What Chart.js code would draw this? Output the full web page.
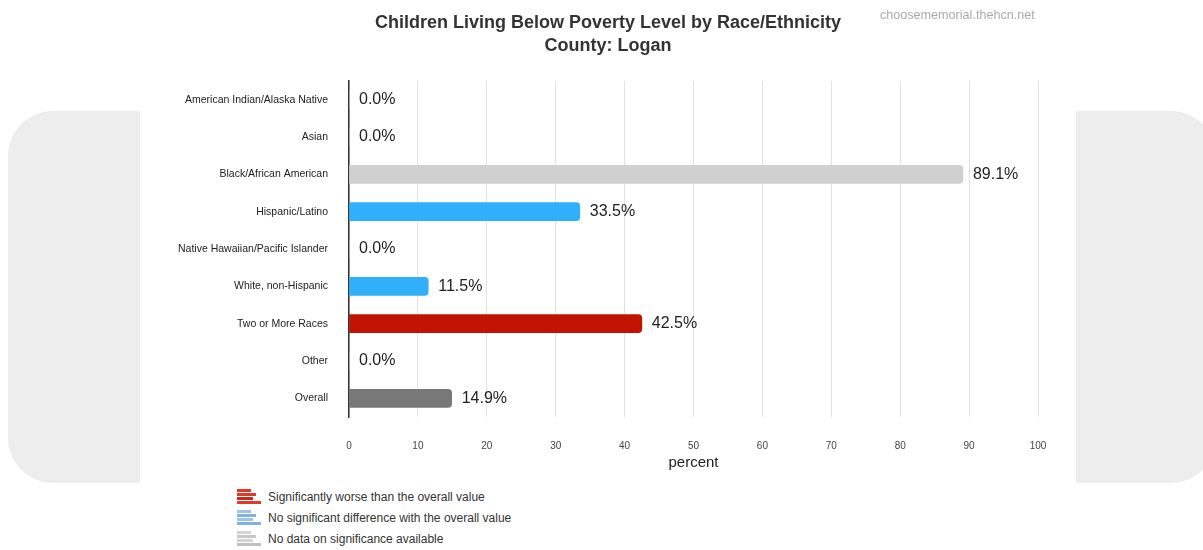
<!DOCTYPE html>
<html>
<head>
<meta charset="utf-8">
<script src="https://cdn.jsdelivr.net/npm/chart.js@4.4.0/dist/chart.umd.min.js"></script>
<style>
  body { margin: 0; background: #fff; font-family: "Liberation Sans", Arial, sans-serif; }
  #wrap { position: relative; width: 1203px; height: 550px; overflow: hidden; }
  .panel { position: absolute; top: 111px; height: 372px; background: #ededed; }
  #panelL { left: 8px; width: 132px; border-radius: 45px 0 0 45px; }
  #panelR { left: 1076px; width: 140px; border-radius: 0 45px 45px 0; }
  #chartBox { position: absolute; left: 0; top: 0; width: 1203px; height: 472px; }
  #title { position: absolute; left: 0; top: 11px; width: 1216px; text-align: center;
           font-size: 18px; font-weight: bold; line-height: 23px; color: #333; }
  #mark { position: absolute; left: 880px; top: 8px; font-size: 12.6px; color: #aaa; }
  #legend { position: absolute; left: 237px; top: 486px; font-size: 12px; color: #333; }
  .row { height: 21px; display: flex; align-items: center; }
  .icon { width: 24px; height: 16px; margin-right: 7px; position: relative; }
  .icon span { position: absolute; left: 0; height: 3px; }
</style>
</head>
<body>
<div id="wrap">
  <div class="panel" id="panelL"></div>
  <div class="panel" id="panelR"></div>
  <div id="chartBox"><canvas id="chart"></canvas></div>
  <div id="title">Children Living Below Poverty Level by Race/Ethnicity<br>County: Logan</div>
  <div id="mark">choosememorial.thehcn.net</div>
  <div id="legend"></div>
</div>
<script>
const categories = [
    'American Indian/Alaska Native',
    'Asian',
    'Black/African American',
    'Hispanic/Latino',
    'Native Hawaiian/Pacific Islander',
    'White, non-Hispanic',
    'Two or More Races',
    'Other',
    'Overall'
];
const values = [0.0, 0.0, 89.1, 33.5, 0.0, 11.5, 42.5, 0.0, 14.9];
const barColors = ['#d0d0d0', '#d0d0d0', '#d0d0d0', '#30b0fb', '#d0d0d0', '#30b0fb', '#c01400', '#d0d0d0', '#787878'];
const xTicks = [0, 10, 20, 30, 40, 50, 60, 70, 80, 90, 100];

const legendItems = [
    { text: 'Significantly worse than the overall value', colors: ['#e03a2c', '#e03a2c', '#c9281c', '#e03a2c'] },
    { text: 'No significant difference with the overall value', colors: ['#9cc4ea', '#7fb1e3', '#9cc4ea', '#7fb1e3'] },
    { text: 'No data on significance available', colors: ['#d4d4d4', '#c8c8c8', '#d4d4d4', '#c0c0c0'] }
];

const FONT = '"Liberation Sans", Arial, sans-serif';

// value labels at end of each bar
const valueLabels = {
    id: 'valueLabels',
    afterDatasetsDraw(chart) {
        const ctx = chart.ctx;
        const meta = chart.getDatasetMeta(0);
        ctx.save();
        ctx.font = '16px ' + FONT;
        ctx.fillStyle = '#222';
        ctx.textAlign = 'left';
        ctx.textBaseline = 'middle';
        meta.data.forEach((bar, i) => {
            ctx.fillText(values[i].toFixed(1) + '%', bar.x + 10, bar.y);
        });
        ctx.restore();
    }
};

new Chart(document.getElementById('chart'), {
    type: 'bar',
    data: {
        labels: categories,
        datasets: [{
            data: values,
            backgroundColor: barColors,
            barThickness: 18,
            borderRadius: 4,
            borderSkipped: 'start'
        }]
    },
    options: {
        indexAxis: 'y',
        responsive: true,
        maintainAspectRatio: false,
        animation: false,
        layout: { padding: { left: 0, right: 165, top: 81, bottom: 0 } },
        plugins: {
            legend: { display: false },
            tooltip: { enabled: false }
        },
        scales: {
            x: {
                min: 0,
                max: 100,
                afterBuildTicks: scale => { scale.ticks = xTicks.map(v => ({ value: v })); },
                afterFit: scale => { scale.height = 55; },
                grid: { color: '#e2e2e2', drawTicks: false },
                border: { display: false },
                ticks: { color: '#444', padding: 23, font: { family: FONT, size: 10 } },
                title: {
                    display: true,
                    text: 'percent',
                    color: '#222',
                    padding: { top: 0, bottom: 0 },
                    font: { family: FONT, size: 15 }
                }
            },
            y: {
                afterFit: scale => { scale.width = 349; },
                grid: { display: false },
                border: { display: true, color: '#333', width: 1.5 },
                ticks: { color: '#222', padding: 13, font: { family: FONT, size: 10.5 } }
            }
        }
    },
    plugins: [valueLabels]
});

// bottom legend
const legendEl = document.getElementById('legend');
const widths = [14, 19, 16, 24];
legendItems.forEach(item => {
    const row = document.createElement('div');
    row.className = 'row';
    const icon = document.createElement('div');
    icon.className = 'icon';
    item.colors.forEach((c, i) => {
        const s = document.createElement('span');
        s.style.top = (i * 4) + 'px';
        s.style.width = widths[i] + 'px';
        s.style.background = c;
        icon.appendChild(s);
    });
    const label = document.createElement('span');
    label.textContent = item.text;
    row.appendChild(icon);
    row.appendChild(label);
    legendEl.appendChild(row);
});
</script>
</body>
</html>
